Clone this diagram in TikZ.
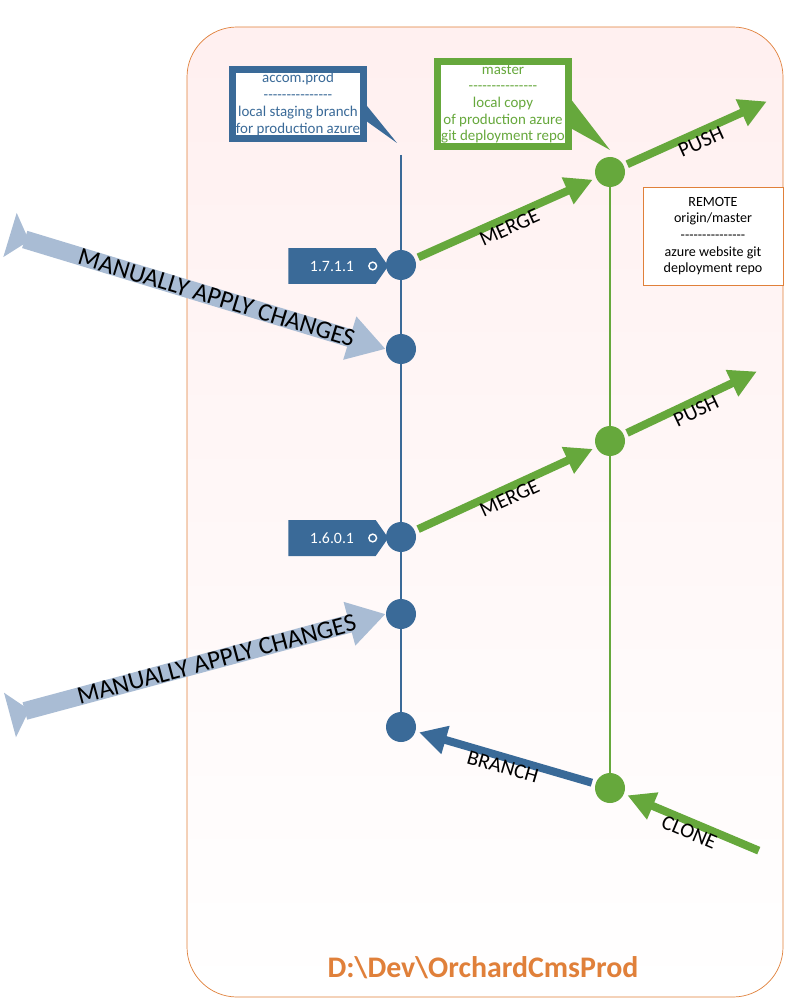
\documentclass[tikz,border=0pt]{standalone}
\usepackage{fontspec}
\setmainfont{Carlito}
\usetikzlibrary{arrows.meta,shapes.symbols,calc}
\definecolor{gitblue}{HTML}{3A6A98}
\definecolor{gitgreen}{HTML}{66A83C}
\definecolor{manblue}{HTML}{A9BCD4}
\definecolor{frame}{HTML}{E0803A}
\newcommand{\sepline}{-{}-{}-{}-{}-{}-{}-{}-{}-{}-{}-{}-{}-{}-{}-}
\tikzset{
  commit/.style={circle, fill=#1, minimum size=0.6cm, inner sep=0pt},
  tag/.style={signal, signal to=east, signal pointer angle=110, fill=gitblue, text=white,
    minimum width=2cm, minimum height=0.72cm, font=\small},
  note/.style={draw=#1, line width=0.14cm, fill=white, text=#1, align=center,
    font=\fontsize{8.5}{9.5}\selectfont, inner sep=2pt},
  flow/.style={line width=0.16cm, draw=#1, -{Triangle[width=0.55cm,length=0.55cm]}, shorten >=2pt, shorten <=2pt},
  manual/.style={line width=0.36cm, draw=manblue, {Triangle[reversed,width=0.9cm,length=0.4cm]}-{Triangle[width=0.85cm,length=0.75cm]}},
  lbl/.style={sloped, below=-4pt, font=\large}
}
\begin{document}
\begin{tikzpicture}[x=0.02cm,y=-0.02cm]
\useasboundingbox (0,0) rectangle (800,1006);

% frame
\draw[frame, rounded corners=1cm, top color=red!6, bottom color=white] (187,27) rectangle (783,997);
\node[text=frame, font=\fontsize{17}{20}\bfseries\selectfont] (folder) at (483,968) {D:\textbackslash Dev\textbackslash OrchardCmsProd};

% branches
\coordinate (btop) at (401,155);
\coordinate (gtop) at (610,172);
\draw[gitblue, line width=1pt] (btop) -- (401,727);
\draw[gitgreen, line width=1pt] (gtop) -- (610,788);

% commits
\node[commit=gitblue] (b1) at (401,265) {};
\node[commit=gitblue] (b2) at (401,349) {};
\node[commit=gitblue] (b3) at (401,537) {};
\node[commit=gitblue] (b4) at (401,614) {};
\node[commit=gitblue] (b5) at (401,727) {};
\node[commit=gitgreen] (g1) at (610,172) {};
\node[commit=gitgreen] (g2) at (610,441) {};
\node[commit=gitgreen] (g3) at (610,788) {};

% callouts
\fill[gitblue] (350,85) -- (397,143) -- (362,118) -- cycle;
\node[note=gitblue] (blue note) at (298,104)
  {accom.prod\\\sepline\\local staging branch\\for production azure};
\fill[gitgreen] (560,85) -- (610,150) -- (565,125) -- cycle;
\node[note=gitgreen] (green note) at (503,104)
  {master\\\sepline\\local copy\\of production azure\\git deployment repo};

% remote
\node[draw=frame, fill=white, align=center, font=\fontsize{8}{9.5}\selectfont, minimum width=2.8cm, minimum height=1.96cm] (remote) at (713,236)
  {REMOTE\\origin/master\\\sepline\\azure website git\\deployment repo};

% tags
\node[tag] (t1) at (332,266) {1.7.1.1\hspace{0.35cm}};
\node[tag] (t2) at (332,538) {1.6.0.1\hspace{0.35cm}};
\foreach \t in {t1,t2}
  \draw[white, fill=gitblue, line width=0.8pt] ($(\t.east)+(-16,0)$) circle (2.2pt);

% flows
\coordinate (push1) at (770,100);
\coordinate (push2) at (760,370);
\coordinate (clone) at (762,852);
\coordinate (man1) at (10,235);
\coordinate (man2) at (10,715);
\draw[flow=gitgreen] (b1) -- node[lbl]{MERGE} (g1);
\draw[flow=gitgreen] (g1) -- node[lbl]{PUSH} (push1);
\draw[flow=gitgreen] (b3) -- node[lbl]{MERGE} (g2);
\draw[flow=gitgreen] (g2) -- node[lbl]{PUSH} (push2);
\draw[flow=gitblue] (g3) -- node[lbl]{BRANCH} (b5);
\draw[flow=gitgreen] (clone) -- node[lbl]{CLONE} (g3);
\draw[manual] (man1) -- node[sloped, font=\Large, pos=0.55]{MANUALLY APPLY CHANGES} (b2.west);
\draw[manual] (man2) -- node[sloped, font=\Large, pos=0.55]{MANUALLY APPLY CHANGES} (b4.west);
\end{tikzpicture}
\end{document}
